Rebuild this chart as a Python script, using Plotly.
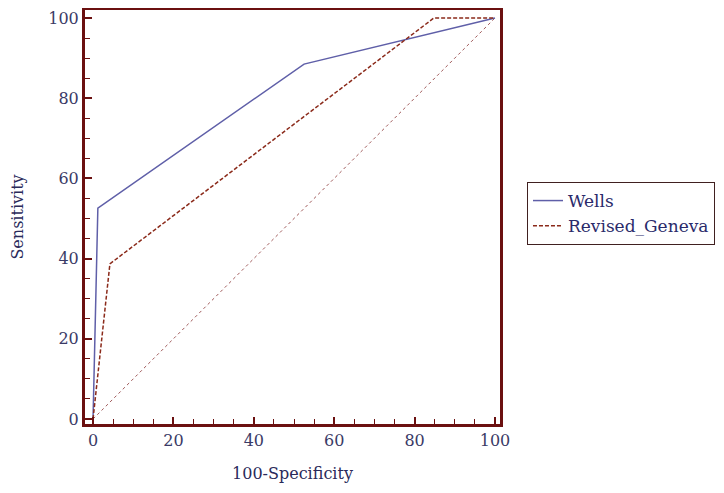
import plotly.graph_objects as go

wells_x = [0, 1.2, 52.5, 100]
wells_y = [0, 52.6, 88.5, 100]
geneva_x = [0, 4.2, 84.8, 100]
geneva_y = [0, 38.7, 100, 100]
diag_x = [0, 100]
diag_y = [0, 100]
tick_vals = [0, 20, 40, 60, 80, 100]

frame = "#6b1010"
tickc = "#3a3a66"
font = "DejaVu Serif"

fig = go.Figure()
fig.add_trace(go.Scatter(x=diag_x, y=diag_y, mode="lines", showlegend=False,
                         line=dict(color="#a05a5a", width=1, dash="dot")))
fig.add_trace(go.Scatter(x=wells_x, y=wells_y, mode="lines", name="Wells",
                         line=dict(color="#5f5fa8", width=1.5)))
fig.add_trace(go.Scatter(x=geneva_x, y=geneva_y, mode="lines", name="Revised_Geneva",
                         line=dict(color="#8b2a1a", width=1.5, dash="4px,2px")))

axis_common = dict(showgrid=False, zeroline=False, showline=True, linecolor=frame,
                   linewidth=3, mirror=True, ticks="inside", ticklen=7, tickwidth=1.5,
                   tickcolor=frame, tickvals=tick_vals, automargin=False,
                   tickfont=dict(family=font, size=16, color=tickc),
                   minor=dict(ticks="inside", dtick=5, ticklen=5, tickcolor=frame, tickwidth=1))

fig.update_xaxes(range=[-2.0, 101.25], title=dict(text="100-Specificity",
                 font=dict(family=font, size=16, color="#2a2a5a"), standoff=19), **axis_common)
fig.update_yaxes(range=[-1.25, 102.0], title=dict(text="Sensitivity",
                 font=dict(family=font, size=16, color="#2a2a5a"), standoff=25), **axis_common)

fig.update_layout(
    width=716, height=485,
    margin=dict(l=77, r=224, t=2, b=69),
    plot_bgcolor="white", paper_bgcolor="white",
    legend=dict(x=1.065, y=0.5845, xanchor="left", yanchor="top",
                bordercolor="#402020", borderwidth=1,
                font=dict(family=font, size=17, color="#2a2a6a"),
                tracegroupgap=0),
)

fig.write_html("out.html")
